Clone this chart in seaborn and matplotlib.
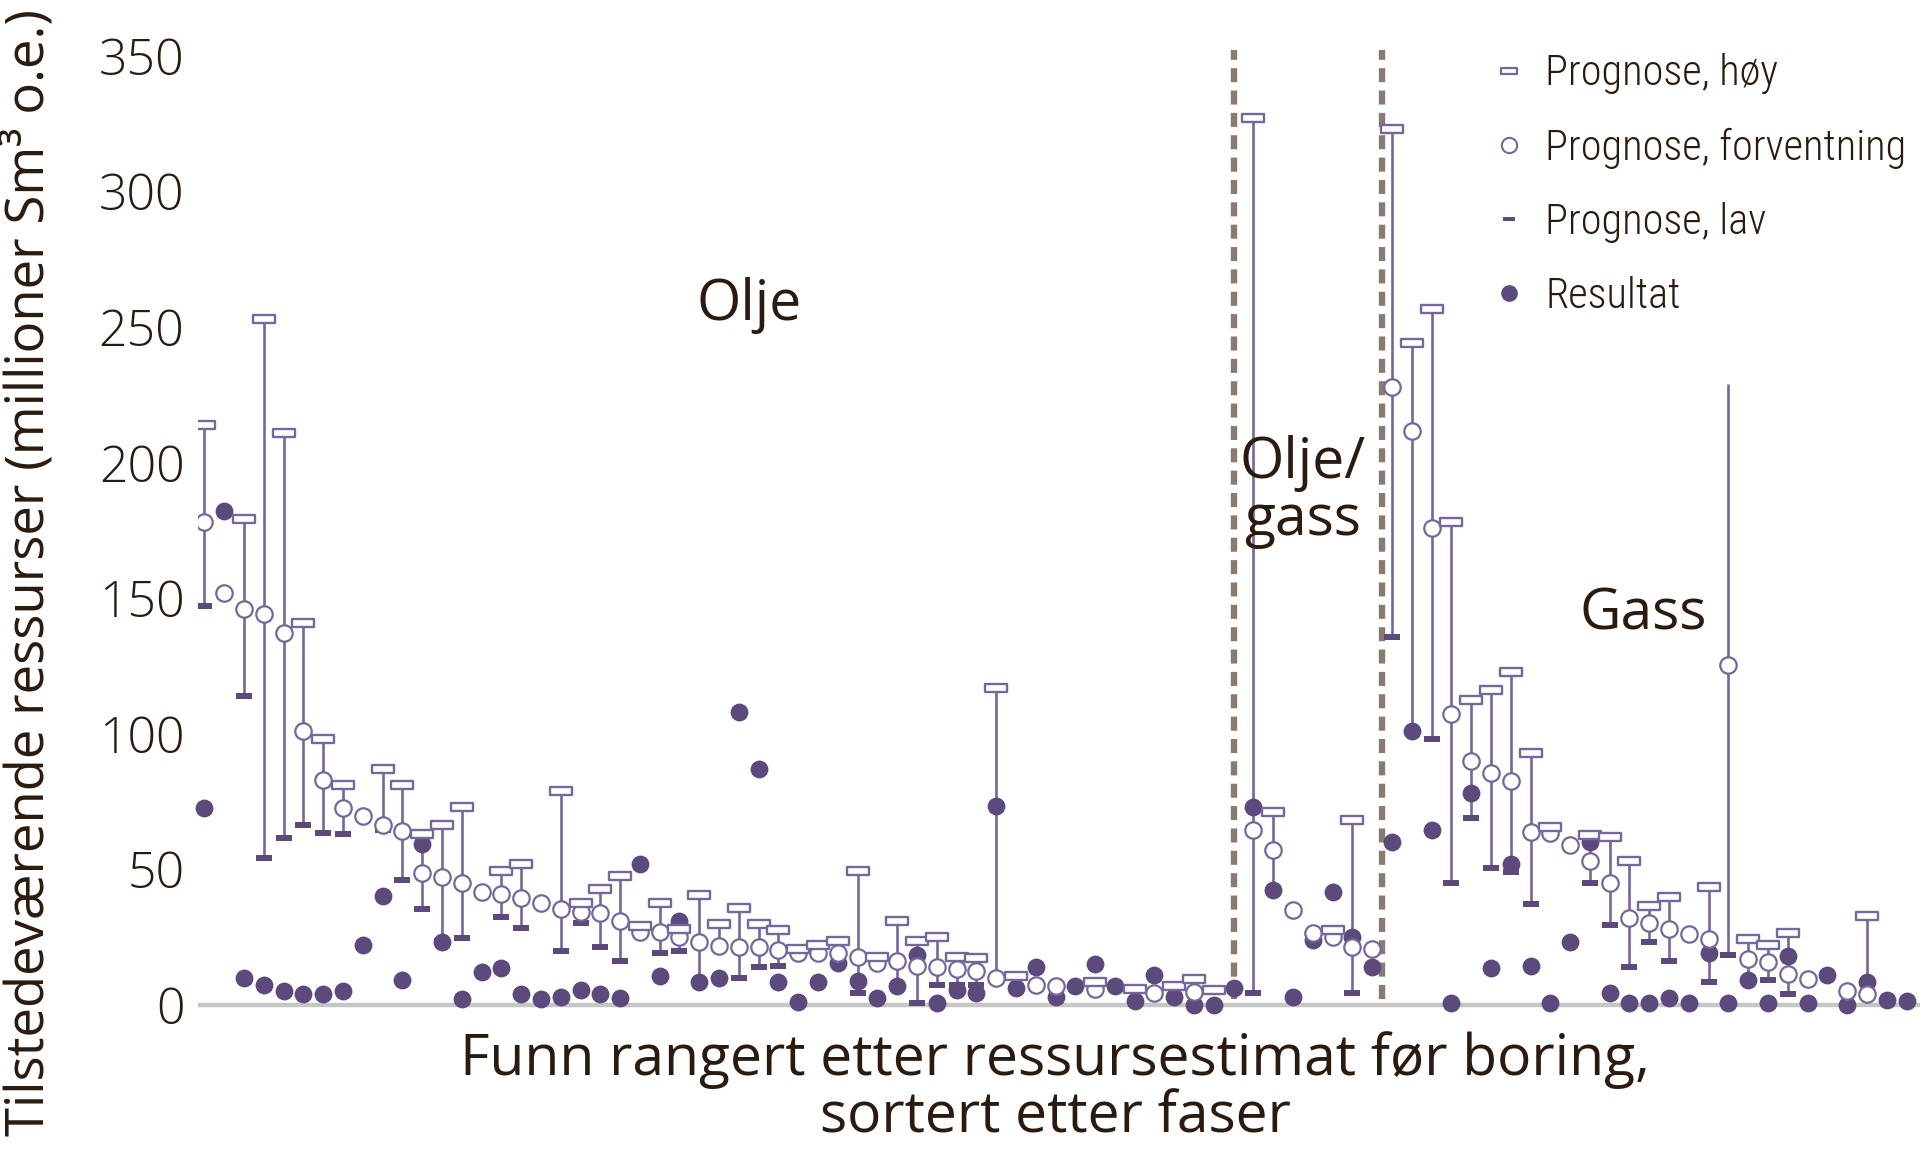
import numpy as np
import pandas as pd
import matplotlib.pyplot as plt
import seaborn as sns
from matplotlib.path import Path
from matplotlib.lines import Line2D
from matplotlib import font_manager as fm

nan = np.nan

# funn 1-53 olje, 54-60 olje/gass, 61-87 gass
prognose_hoy = [214, nan, 179, 253, 211, 141, 98, 81, nan, 87,
                81, 63, 66.5, 73, nan, 49.5, 52, nan, 79, 37.5,
                42.8, 47.6, 29, 37.7, 28, 40.6, 29.7, 35.6, 29.7, 27.6,
                20.5, 22.1, 23.6, 49.5, 17.5, 31.1, 23.6, 25.2, 17.8, 17.4,
                117, 10.7, nan, nan, nan, 8.6, nan, 5.8, nan, 7,
                9.5, 5.5, nan,
                327, 71, nan, nan, 27.5, 68, nan,
                323, 244, 256.5, 178, 112.5, 116, 122.6, 93, 65.5, nan,
                62.5, 62, 53.2, 36.5, 39.7, nan, 43.6, 229, 24.4, 22.1,
                26.4, nan, nan, nan, 32.8, nan, nan]

prognose_forventning = [178, 152, 146, 144, 137, 101, 83, 72.5, 69.5, 66.5,
                        64, 48.5, 47, 45, 41.5, 41, 39.5, 37.5, 35.3, 34.4,
                        33.8, 31, 27, 26.7, 25.2, 23, 21.8, 21.3, 21.3, 20.3,
                        19.3, 19.3, 19, 17.5, 15.6, 16, 14.4, 13.9, 13.1, 12.3,
                        9.8, nan, 7.4, 7, nan, 5.8, nan, nan, 4.5, nan,
                        4.9, nan, nan,
                        64.5, 57, 35, 26.5, 25, 21.5, 20.5,
                        228, 211.5, 175.7, 107.3, 90, 85.4, 82.5, 63.8, 63.5, 59,
                        52.9, 45, 32, 30.1, 28, 26, 24.4, 125.3, 16.8, 15.7,
                        11.5, 9.6, nan, 5.1, 4, nan, nan]

prognose_lav = [147, nan, 114, 54, 61.5, 66.5, 63.5, 63, nan, 64.5,
                46, 35.5, 23.5, 24.5, nan, 32.5, 28.5, nan, 20, 30,
                21.3, 16.2, nan, 19.3, 19.7, 8.6, nan, 9.8, 14.1, 14.4,
                nan, nan, nan, 4.5, nan, 7, 0.6, 7.4, 7.4, 7.4,
                9.5, nan, nan, nan, nan, nan, nan, nan, nan, nan,
                nan, nan, nan,
                4.4, 42.5, nan, nan, nan, 4.4, nan,
                135.5, 100.5, 98, 45, 69, 50.5, 49, 37.2, nan, nan,
                45, 29.6, 14.1, 23.2, 16, nan, 8.3, 18.4, 9.3, 9.3,
                4, nan, nan, nan, 8, nan, nan]

resultat = [72.5, 182, 10, 7.5, 5, 4, 4, 5, 22, 40,
            9, 59.5, 23, 2.3, 12, 13.5, 4, 2, 2.8, 5.3,
            3.9, 2.7, 52, 10.7, 31, 8.6, 9.8, 108, 87, 8.6,
            0.9, 8.6, 15.4, 8.8, 2.5, 6.8, 18.4, 0.6, 5.5, 4.3,
            73.5, 6.1, 13.9, 2.8, 6.8, 15.1, 7, 1.6, 11, 2.8,
            0, 0, 6.1,
            73, 42.5, 3, 24, 41.5, 25, 14,
            60, 101, 64.5, 0.5, 78, 13.6, 52, 14.4, 0.8, 23.2,
            60, 4.5, 0.8, 0.5, 2.4, 0.8, 19.2, 0.8, 9.3, 0.8,
            17.9, 0.8, 11, 0, 8.3, 1.9, 1.3]

# funn der linja går til høy-verdien uten markør
uten_hoy_markor = [77]

fase_skille = [52, 59.5]
fase_tekst = ['Olje', 'Olje/\ngass', 'Gass']
fase_pos = [(27.5, 258), (55.5, 189), (72.7, 143.6)]

df = pd.DataFrame({'hoy': prognose_hoy, 'forv': prognose_forventning,
                   'lav': prognose_lav, 'res': resultat})
df['funn'] = np.arange(len(df))
df['hoy_markor'] = df['hoy']
df.loc[uten_hoy_markor, 'hoy_markor'] = nan
df['bunn'] = df['lav'].fillna(df['forv'])

sns.set_style('white')
fonts = {f.name for f in fm.fontManager.ttflist}
smal = next((f for f in ['Liberation Sans Narrow', 'Roboto Condensed',
                         'Noto Sans Condensed', 'Open Sans Condensed']
             if f in fonts), 'DejaVu Sans')
plt.rcParams['font.family'] = ['Open Sans', 'DejaVu Sans']

lilla = '#5c4a7c'
lilla_linje = '#76679a'
tekst = '#2b1a0e'

boks = Path([(-1.25, -0.5), (1.25, -0.5), (1.25, 0.5), (-1.25, 0.5), (-1.25, -0.5)],
            [Path.MOVETO, Path.LINETO, Path.LINETO, Path.LINETO, Path.CLOSEPOLY])
strek = Path([(-1.2, -0.5), (1.2, -0.5), (1.2, 0.5), (-1.2, 0.5), (-1.2, -0.5)],
             [Path.MOVETO, Path.LINETO, Path.LINETO, Path.LINETO, Path.CLOSEPOLY])

fig = plt.figure(figsize=(19.2, 11.63), dpi=100)
ax = fig.add_axes([0.1033, 0.129, 0.8967, 0.830])

# fasegrenser
ax.vlines(fase_skille, 2, 352, colors='#8a7b72', linewidth=4.6,
          linestyles=(0, (2.2, 1.3)), zorder=1)

# spenn lav-høy
d = df.dropna(subset=['hoy'])
ax.vlines(d['funn'], d['bunn'], d['hoy'], colors=lilla_linje, linewidth=1.9, zorder=2)

sns.scatterplot(data=df, x='funn', y='res', ax=ax, color=lilla, s=165,
                linewidth=0, zorder=3, clip_on=False)
sns.scatterplot(data=df, x='funn', y='lav', ax=ax, color=lilla, marker=strek,
                s=125, linewidth=0, zorder=4)
sns.scatterplot(data=df, x='funn', y='forv', ax=ax, color='white', s=140,
                edgecolor=lilla_linje, linewidth=1.6, zorder=5)
sns.scatterplot(data=df, x='funn', y='hoy_markor', ax=ax, color='white', marker=boks,
                s=250, edgecolor=lilla_linje, linewidth=1.7, zorder=6)

ax.axhline(0, color='#c6c6c6', linewidth=3.2, zorder=0)

for t, (x, y) in zip(fase_tekst, fase_pos):
    ax.text(x, y, t, ha='center', va='center', fontsize=41, color=tekst,
            linespacing=1.0)

ax.set_xlim(-0.31, 86.68)
ax.set_ylim(-3, 353)
ax.set_yticks(range(0, 351, 50))
ax.set_xticks([])
ax.set_xlabel('')
ax.set_ylabel('')
for s in ax.spines.values():
    s.set_visible(False)
ax.tick_params(axis='y', length=0, pad=10, labelsize=36, labelcolor=tekst)
for lbl in ax.get_yticklabels():
    lbl.set_fontweight('light')

handles = [
    Line2D([], [], linestyle='none', marker=boks, markersize=12,
           markerfacecolor='white', markeredgecolor=lilla_linje, markeredgewidth=1.6),
    Line2D([], [], linestyle='none', marker='o', markersize=11,
           markerfacecolor='white', markeredgecolor=lilla_linje, markeredgewidth=1.5),
    Line2D([], [], linestyle='none', marker=strek, markersize=8,
           markerfacecolor=lilla, markeredgewidth=0),
    Line2D([], [], linestyle='none', marker='o', markersize=12,
           markerfacecolor=lilla, markeredgewidth=0),
]
labels = ['Prognose, høy', 'Prognose, forventning', 'Prognose, lav', 'Resultat']
leg = ax.legend(handles, labels, loc='upper left', bbox_to_anchor=(0.754, 0.994),
                frameon=False, borderpad=0, borderaxespad=0, handlelength=0.6,
                handletextpad=0.55, labelspacing=0.78,
                prop={'family': smal, 'size': 30.5, 'weight': 'light'})
for t in leg.get_texts():
    t.set_color(tekst)

fig.text(0.0155, 1 - 573 / 1163, 'Tilstedeværende ressurser (millioner Sm³ o.e.)',
         rotation=90, ha='center', va='center', fontsize=38, color=tekst)
fig.text(0.5497, 1 - 1089 / 1163, 'Funn rangert etter ressursestimat før boring,\nsortert etter faser',
         ha='center', va='center', fontsize=41, color=tekst, linespacing=1.0)

fig.savefig('out.png', dpi=100)
